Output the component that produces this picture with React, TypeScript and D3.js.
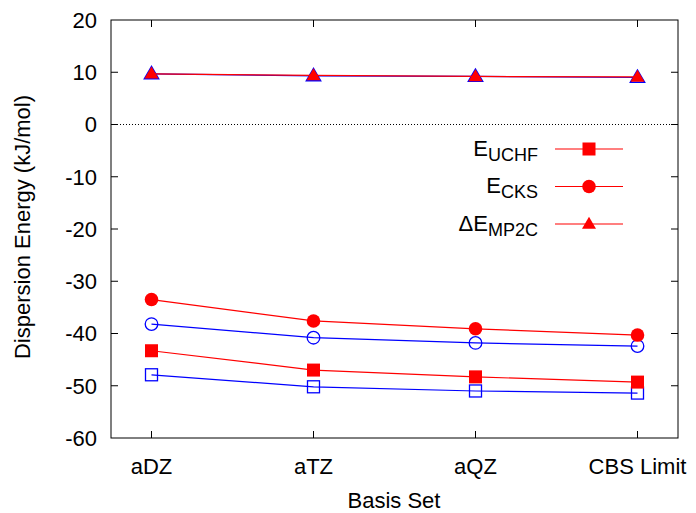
import React from 'react';
import * as d3 from 'd3';

const categories = ['aDZ', 'aTZ', 'aQZ', 'CBS Limit'];
const uchfRed = [-43.3, -47.0, -48.3, -49.3];
const cksRed = [-33.5, -37.6, -39.1, -40.3];
const mp2cRed = [9.7, 9.4, 9.2, 9.1];
const uchfBlue = [-47.9, -50.2, -51.0, -51.4];
const cksBlue = [-38.2, -40.8, -41.8, -42.4];
const mp2cBlue = [9.7, 9.3, 9.2, 9.0];
const yTicks = [-60, -50, -40, -30, -20, -10, 0, 10, 20];
const legendItems = [
  { main: 'E', sub: 'UCHF', shape: 'square' },
  { main: 'E', sub: 'CKS', shape: 'circle' },
  { main: 'ΔE', sub: 'MP2C', shape: 'triangle' },
];

const W = 696, H = 513;
const L = 111, R = 678, T = 20, B = 438;
const FONT = 'Liberation Sans, Arial, sans-serif';
const FS = 22;
const RED = '#ff0000', BLUE = '#0000ff';

function Marker({ shape, x, y, color, filled }: { shape: string; x: number; y: number; color: string; filled: boolean }) {
  const fill = filled ? color : 'none';
  const stroke = filled ? 'none' : color;
  const sw = 1.3;
  if (shape === 'square') {
    const s = filled ? 13 : 12;
    return <rect x={x - s / 2} y={y - s / 2} width={s} height={s} fill={fill} stroke={stroke} strokeWidth={sw} />;
  }
  if (shape === 'circle') {
    const r = filled ? 6.8 : 6.3;
    return <circle cx={x} cy={y} r={r} fill={fill} stroke={stroke} strokeWidth={sw} />;
  }
  const h = 12, w = 14;
  const pts = `${x},${y - h * 0.6} ${x - w / 2},${y + h * 0.4} ${x + w / 2},${y + h * 0.4}`;
  return <polygon points={pts} fill={fill} stroke={stroke} strokeWidth={filled ? 0 : 1.6} />;
}

export default function App() {
  const x = d3.scalePoint<string>().domain(categories).range([L, R]).padding(0.25);
  const y = d3.scaleLinear().domain([-60, 20]).range([B, T]);
  const line = d3.line<[string, number]>().x(d => x(d[0]) as number).y(d => y(d[1]));
  const mk = (vals: number[]) => categories.map((c, i) => [c, vals[i]] as [string, number]);

  const blueSeries = [
    { vals: uchfBlue, shape: 'square' },
    { vals: cksBlue, shape: 'circle' },
    { vals: mp2cBlue, shape: 'triangle' },
  ];
  const redSeries = [
    { vals: uchfRed, shape: 'square' },
    { vals: cksRed, shape: 'circle' },
    { vals: mp2cRed, shape: 'triangle' },
  ];
  const tickLen = 7;
  const legendY = [149, 186.5, 224];

  return (
    <svg width={W} height={H} style={{ position: 'absolute', left: 0, top: 0, background: '#fff' }} fontFamily={FONT}>
      <rect x={0} y={0} width={W} height={H} fill="#fff" />
      <line x1={L} x2={R} y1={y(0)} y2={y(0)} stroke="#000" strokeWidth={1} strokeDasharray="1,2" />
      {yTicks.map(t => (
        <g key={'yt' + t}>
          {t !== -60 && t !== 20 && (
            <>
              <line x1={L} x2={L + tickLen} y1={y(t)} y2={y(t)} stroke="#000" />
              <line x1={R} x2={R - tickLen} y1={y(t)} y2={y(t)} stroke="#000" />
            </>
          )}
          <text x={97} y={y(t)} dy="0.36em" textAnchor="end" fontSize={FS} fill="#000">{t}</text>
        </g>
      ))}
      {categories.map(c => (
        <g key={'xt' + c}>
          <line x1={x(c)} x2={x(c)} y1={B} y2={B - tickLen} stroke="#000" />
          <line x1={x(c)} x2={x(c)} y1={T} y2={T + tickLen} stroke="#000" />
          <text x={x(c)} y={474} textAnchor="middle" fontSize={FS} fill="#000">{c}</text>
        </g>
      ))}
      <rect x={L} y={T} width={R - L} height={B - T} fill="none" stroke="#000" strokeWidth={1} />
      <text x={394} y={508} textAnchor="middle" fontSize={FS} fill="#000">Basis Set</text>
      <text transform={`translate(30,${(T + B) / 2 - 2}) rotate(-90)`} textAnchor="middle" fontSize={FS} fill="#000">Dispersion Energy (kJ/mol)</text>
      {blueSeries.map((s, i) => (
        <path key={'bl' + i} d={line(mk(s.vals)) || ''} fill="none" stroke={BLUE} strokeWidth={1.2} />
      ))}
      {blueSeries.map((s, i) => s.vals.map((v, j) => (
        <Marker key={'bm' + i + j} shape={s.shape} x={x(categories[j]) as number} y={y(v)} color={BLUE} filled={false} />
      )))}
      {redSeries.map((s, i) => (
        <path key={'rl' + i} d={line(mk(s.vals)) || ''} fill="none" stroke={RED} strokeWidth={1.2} />
      ))}
      {redSeries.map((s, i) => s.vals.map((v, j) => (
        <Marker key={'rm' + i + j} shape={s.shape} x={x(categories[j]) as number} y={y(v)} color={RED} filled={true} />
      )))}
      {legendItems.map((it, i) => (
        <g key={'lg' + i}>
          <text x={538} y={legendY[i]} dy="0.3em" textAnchor="end" fontSize={FS} fill="#000">
            {it.main}
            <tspan fontSize={18} dy="5">{it.sub}</tspan>
          </text>
          <line x1={555} x2={623} y1={legendY[i]} y2={legendY[i]} stroke={RED} strokeWidth={1.2} />
          <Marker shape={it.shape} x={589} y={legendY[i]} color={RED} filled={true} />
        </g>
      ))}
    </svg>
  );
}
